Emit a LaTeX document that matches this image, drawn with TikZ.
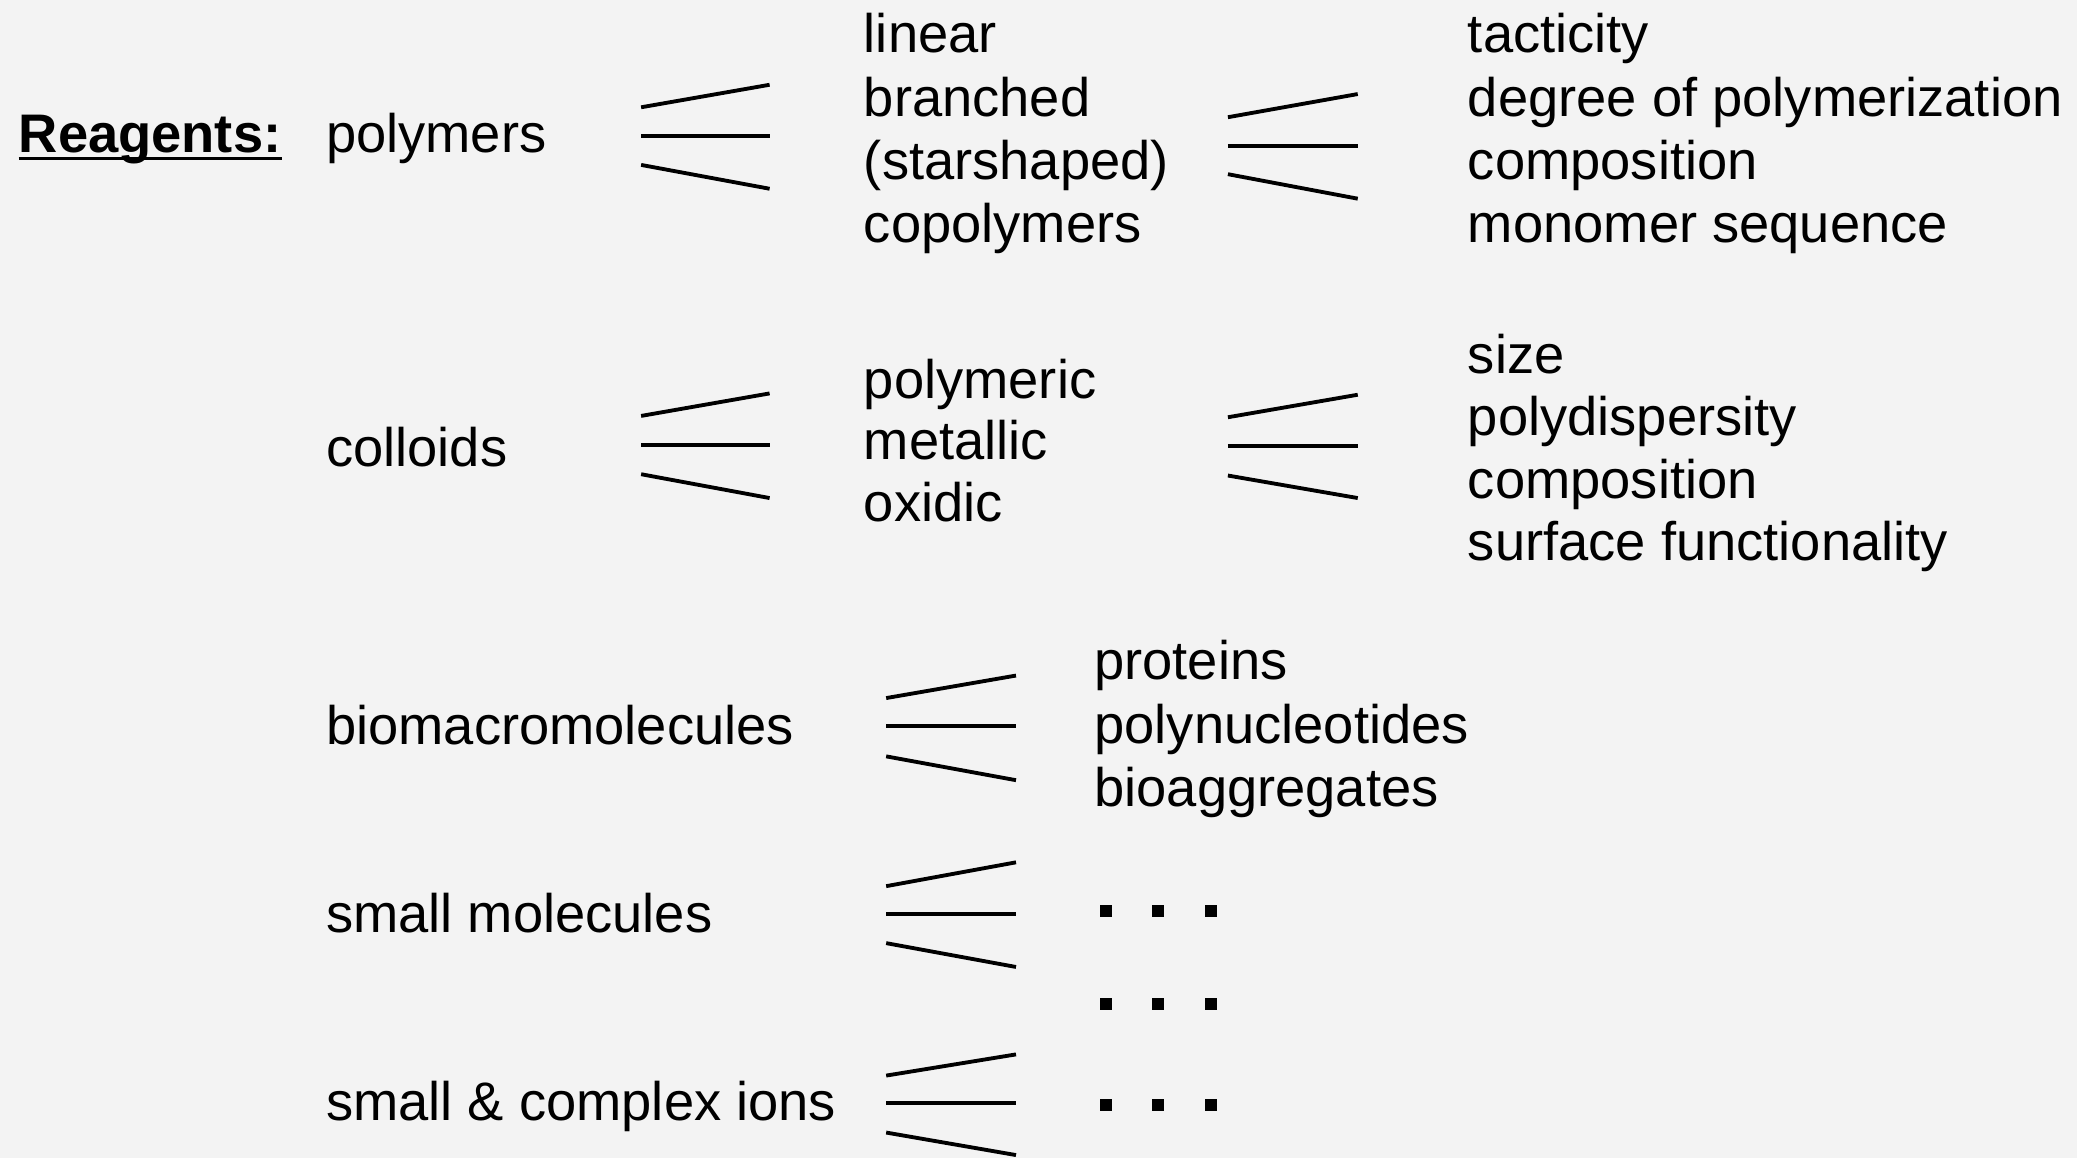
\documentclass[tikz,border=0pt]{standalone}
\usepackage{fontspec}
\setmainfont{Liberation Sans}
\definecolor{bg}{RGB}{243,243,243}
\newcommand\drawfan[8]{%
  \coordinate (#1tl) at (#2,#4); \coordinate (#1tr) at (#3,#5);
  \coordinate (#1ml) at (#2,#6); \coordinate (#1mr) at (#3,#6);
  \coordinate (#1bl) at (#2,#7); \coordinate (#1br) at (#3,#8);
  \draw[fan] (#1tl) -- (#1tr);
  \draw[fan] (#1ml) -- (#1mr);
  \draw[fan] (#1bl) -- (#1br);}
\begin{document}
\begin{tikzpicture}[x=1pt,y=-1pt,
  lbl/.style={anchor=base west, inner sep=0pt, font=\fontsize{41}{48}\selectfont},
  fan/.style={line width=2.9pt, line cap=butt},
  sq/.style={fill=black, minimum size=9pt, inner sep=0pt, draw=none}]
\useasboundingbox[fill=bg] (0,0) rectangle (1568,874);
% column 1
\node[lbl, font=\fontsize{41}{48}\selectfont\bfseries] (reag) at (14,115.5) {Reagents:};
\draw[line width=2.4pt] ([yshift=-4pt]reag.base west) -- ([yshift=-4pt]reag.base east);
\node[lbl] (poly) at (246,115.5) {polymers};
\node[lbl] (coll) at (246,352) {colloids};
\node[lbl] (bio)  at (246,562) {biomacromolecules};
\node[lbl] (smol) at (246,704) {small molecules};
\node[lbl] (ions) at (246,846) {small \& complex ions};
% column 2
\node[lbl] (lin)  at (652,40) {linear};
\node[lbl] (bra)  at (652,88) {branched};
\node[lbl] (star) at (652,135.5) {(starshaped)};
\node[lbl] (copo) at (652,183) {copolymers};
\node[lbl] (pmer) at (652,301) {polymeric};
\node[lbl] (met)  at (652,347) {metallic};
\node[lbl] (oxi)  at (652,394) {oxidic};
\node[lbl] (prot) at (826,513) {proteins};
\node[lbl] (pnuc) at (826,561) {polynucleotides};
\node[lbl] (bagg) at (826,609) {bioaggregates};
% column 3
\node[lbl] (tac)  at (1108,40) {tacticity};
\node[lbl] (deg)  at (1108,88) {degree of polymerization};
\node[lbl] (comp) at (1108,135.5) {composition};
\node[lbl] (mon)  at (1108,183) {monomer sequence};
\node[lbl] (size) at (1108,282) {size};
\node[lbl] (pdis) at (1108,329) {polydispersity};
\node[lbl] (compb) at (1108,376) {composition};
\node[lbl] (surf) at (1108,423) {surface functionality};
% dots
\foreach \r/\yy in {a/688,b/758,c/834}{
  \node[sq] (d\r1) at (835,\yy) {};
  \node[sq] (d\r2) at (874,\yy) {};
  \node[sq] (d\r3) at (914,\yy) {};
}
% fans
\drawfan{fa}{484}{581}{81}{64}{102.5}{124.5}{142.5}
\drawfan{fb}{927}{1025}{88.5}{71}{110}{131.5}{150}
\drawfan{fc}{484}{581}{314}{297}{336}{358}{376}
\drawfan{fd}{927}{1025}{315}{298}{337}{359}{376}
\drawfan{fe}{669}{767}{527}{510}{548}{571}{589}
\drawfan{ff}{669}{767}{669}{651}{690}{712}{730}
\drawfan{fg}{669}{767}{812}{796}{833}{855}{872}
\end{tikzpicture}
\end{document}
